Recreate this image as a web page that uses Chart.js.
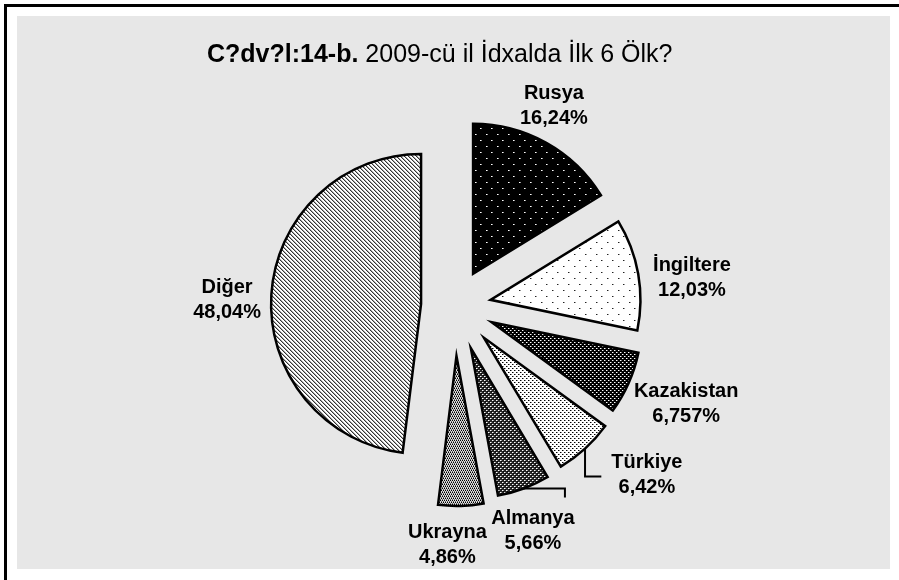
<!DOCTYPE html>
<html><head><meta charset="utf-8">
<script src="https://cdn.jsdelivr.net/npm/chart.js@4/dist/chart.umd.min.js"></script>
<style>
html,body{margin:0;padding:0;background:#fff;}
#wrap{position:relative;width:899px;height:580px;overflow:hidden;background:#fff;}
#frameTop{position:absolute;left:4px;top:4px;width:895px;height:3px;background:#000;}
#frameLeft{position:absolute;left:4px;top:4px;width:3px;height:576px;background:#000;}
#bg{position:absolute;left:17px;top:16px;width:873px;height:553px;background:#e7e7e7;}
#title{position:absolute;left:207px;top:39px;white-space:nowrap;font-family:"Liberation Sans",Arial,sans-serif;font-size:25px;color:#000;}
#title b{font-weight:bold;}
canvas{position:absolute;left:0;top:0;}
</style></head>
<body>
<div id="wrap">
  <div id="frameTop"></div><div id="frameLeft"></div>
  <div id="bg"></div>
  <canvas id="c" width="899" height="580"></canvas>
  <div id="title"><b>C?dv?l:14-b.</b> 2009-cü il İdxalda İlk 6 Ölk?</div>
</div>
<script>
// ---- data ----
const categories = ['Rusya', 'İngiltere', 'Kazakistan', 'Türkiye', 'Almanya', 'Ukrayna', 'Diğer'];
const shares = [16.24, 12.03, 6.757, 6.42, 5.66, 4.86, 48.04];
const shareLabels = shares.map(v => String(v).replace('.', ',') + '%');

// ---- layout / style ----
const PIE_R = 150;
const explode = [37, 36, 40, 43, 45, 50, 34];          // px each slice is pulled out
const labelPlace = [                                     // [distance from centre, angle nudge deg]
  [223, -2.9], [238.6, 3.2], [251, -1], [256, -6.2], [238, 1.5], [239, 3.5], [228, -2.1]
];
const leader = [null, null, null, 'vh', 'hv', null, null];

function makePattern(w, h, bg, pts) {
  const c = document.createElement('canvas');
  c.width = w; c.height = h;
  const g = c.getContext('2d');
  g.fillStyle = bg; g.fillRect(0, 0, w, h);
  pts.forEach(p => { g.fillStyle = p[2]; g.fillRect(p[0], p[1], p[3] || 1, p[4] || 1); });
  return g.createPattern(c, 'repeat');
}
const W = '#ffffff', B = '#000000';
const patterns = [
  makePattern(11, 12, B, [[2, 2, W], [3, 2, '#999'], [7, 8, W], [8, 8, '#999']]),
  makePattern(11, 12, W, [[2, 2, '#222'], [3, 2, '#999'], [7, 8, '#222'], [8, 8, '#999']]),
  makePattern(4, 4, B, [[0, 0, W], [2, 2, W], [1, 0, '#777'], [3, 2, '#777']]),
  makePattern(4, 4, W, [[0, 0, B], [2, 2, B], [1, 0, '#888'], [3, 2, '#888']]),
  makePattern(4, 4, '#262626', [[0, 0, W], [2, 2, W], [1, 0, '#999'], [3, 2, '#999'], [1, 1, B], [3, 3, B]]),
  makePattern(4, 4, '#dcdcdc', [[0, 0, B], [2, 0, B], [1, 1, '#666'], [3, 1, '#666'], [1, 2, B], [3, 2, B], [0, 3, '#666'], [2, 3, '#666']]),
  makePattern(4, 4, W, [[0, 0, '#333'], [1, 1, '#333'], [2, 2, '#333'], [3, 3, '#333'],
                        [1, 0, '#aaa'], [2, 1, '#aaa'], [3, 2, '#aaa'], [0, 3, '#aaa']])
];

function pieCentre(chart) {
  const a = chart.chartArea;
  return { x: (a.left + a.right) / 2, y: (a.top + a.bottom) / 2 };
}

// pull each slice out along its middle angle
const explodeSlices = {
  id: 'explodeSlices',
  beforeDatasetsDraw(chart) {
    const c = pieCentre(chart);
    chart.getDatasetMeta(0).data.forEach((arc, i) => {
      const mid = (arc.startAngle + arc.endAngle) / 2;
      arc.x = c.x + Math.cos(mid) * explode[i];
      arc.y = c.y + Math.sin(mid) * explode[i];
    });
  }
};

const sliceLabels = {
  id: 'sliceLabels',
  afterDatasetsDraw(chart) {
    const ctx = chart.ctx;
    const meta = chart.getDatasetMeta(0);
    const R = meta.controller.outerRadius;
    const c = pieCentre(chart);
    ctx.save();
    ctx.font = 'bold 20px "Liberation Sans", Arial, sans-serif';
    ctx.fillStyle = '#000';
    ctx.textAlign = 'center';
    ctx.textBaseline = 'middle';
    meta.data.forEach((arc, i) => {
      const mid = (arc.startAngle + arc.endAngle) / 2;
      const [dist, nudge] = labelPlace[i];
      const a = mid + nudge * Math.PI / 180;
      const lx = c.x + Math.cos(a) * dist;
      const ly = c.y + Math.sin(a) * dist;
      const lh = 25;
      ctx.fillText(categories[i], lx, ly - lh / 2);
      ctx.fillText(shareLabels[i], lx, ly + lh / 2);
      if (leader[i]) {
        const sx = c.x + Math.cos(mid) * (explode[i] + R);
        const sy = c.y + Math.sin(mid) * (explode[i] + R);
        ctx.beginPath();
        ctx.lineWidth = 2;
        ctx.strokeStyle = '#000';
        ctx.moveTo(sx, sy);
        if (leader[i] === 'vh') {
          const tw = ctx.measureText(categories[i]).width;
          ctx.lineTo(sx, ly + 1);
          ctx.lineTo(lx - tw / 2 - 10, ly + 1);
        } else {
          ctx.lineTo(lx + 32, sy);
          ctx.lineTo(lx + 32, ly - lh / 2 - 21);
        }
        ctx.stroke();
      }
    });
    ctx.restore();
  }
};

new Chart(document.getElementById('c'), {
  type: 'pie',
  data: {
    labels: categories,
    datasets: [{
      data: shares,
      backgroundColor: patterns,
      borderColor: '#000',
      borderWidth: 2.5,
      borderJoinStyle: 'miter',
      offset: 0,
      hoverOffset: 0
    }]
  },
  options: {
    responsive: false,
    animation: false,
    radius: PIE_R,
    layout: { padding: { left: 12, right: 1, top: 40, bottom: 8 } },
    plugins: { legend: { display: false }, tooltip: { enabled: false }, title: { display: false } },
    events: []
  },
  plugins: [explodeSlices, sliceLabels]
});
</script>
</body></html>
